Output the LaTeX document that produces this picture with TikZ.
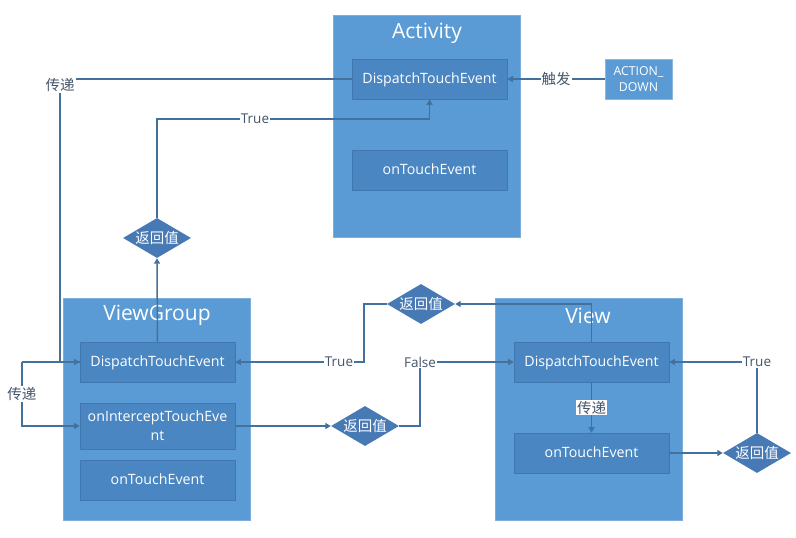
\documentclass[tikz,border=0pt]{standalone}
\usepackage{fontspec}
\setmainfont{Open Sans}
\newfontfamily\cjk{Noto Sans CJK SC}
\usetikzlibrary{shapes.geometric,arrows.meta}
\definecolor{outerblue}{HTML}{5B9BD5}
\definecolor{innerblue}{HTML}{4A86C1}
\definecolor{innerborder}{HTML}{3F77AE}
\definecolor{diamblue}{HTML}{4779B5}
\definecolor{lineblue}{HTML}{41719C}
\definecolor{lbltext}{HTML}{44546A}
\tikzset{
  outerbox/.style={fill=outerblue, draw=outerblue!80!white, line width=0.6pt, minimum width=187pt, minimum height=222pt, inner sep=0pt},
  titletext/.style={text=white, font=\fontsize{21}{24}\selectfont},
  innerbox/.style={fill=innerblue, draw=innerborder, line width=0.6pt, minimum width=155pt, minimum height=40pt, inner sep=1pt, text=white, font=\fontsize{14.2}{19}\selectfont, align=center},
  onebox/.style={innerbox, text height=1.9ex, text depth=0.4ex},
  actbox/.style={fill=outerblue, draw=outerblue!70!white, line width=0.6pt, minimum width=67pt, minimum height=40pt, inner sep=1pt, text=white, font=\fontsize{12.3}{16}\selectfont, align=center},
  decision/.style={diamond, fill=diamblue, minimum width=68pt, minimum height=40pt, inner sep=0pt, aspect=1.7, text=white, font=\cjk\fontsize{14.5}{16}\selectfont},
  conn/.style={draw=lineblue, line width=1.5pt, -{Triangle[length=5.5pt,width=6pt]}},
  plain/.style={draw=lineblue, line width=1.5pt},
  lbl/.style={fill=white, inner sep=1pt, text=lbltext, font=\fontsize{13.5}{15}\selectfont},
  cjklbl/.style={fill=white, inner sep=1pt, text=lbltext, font=\cjk\fontsize{14.5}{16}\selectfont}
}
\begin{document}
\begin{tikzpicture}[x=1pt,y=-1pt]
\useasboundingbox (0,0) rectangle (796,538);
% outer containers
\node[outerbox] (act) at (426.5,126) {};
\node[outerbox] (vg) at (156.5,409) {};
\node[outerbox] (vw) at (588.5,409) {};
\node[titletext] (actT) at (427,33) {Activity};
\node[titletext] (vgT) at (157,315.5) {ViewGroup};
\node[titletext] (vwT) at (588,315.5) {View};
% inner boxes
\node[onebox] (ad) at (429.5,79) {DispatchTouchEvent};
\node[onebox] (at) at (429.5,170) {onTouchEvent};
\node[onebox] (vgd) at (157.5,362) {DispatchTouchEvent};
\node[innerbox, minimum height=46pt] (vgi) at (157.5,426) {onInterceptTouchEve\\nt};
\node[onebox] (vgt) at (157.5,480) {onTouchEvent};
\node[onebox] (vd) at (591.5,362) {DispatchTouchEvent};
\node[onebox] (vt) at (591.5,453) {onTouchEvent};
\node[actbox] (adn) at (638.5,79) {ACTION\_\\DOWN};
% decisions
\node[decision] (d0) at (157,238) {返回值};
\node[decision] (d1) at (421,304) {返回值};
\node[decision] (d2) at (365,426) {返回值};
\node[decision] (d3) at (757,453) {返回值};
% label positions
\coordinate (ty) at (0,119);
\coordinate (bl) at (22,362);
\coordinate (fc) at (420,362);
\coordinate (tc) at (757,362);
\coordinate (tc2) at (364,362);
\node[cjklbl] (p1) at (60,85) {传递};
% connectors
\draw[conn] (adn.west) -- (ad.east) node[cjklbl, pos=0.5] (trig) {触发};
\draw[plain] (ad.west) -- (ad.west -| p1.east);
\draw[conn] (p1.south) |- (vgd.west);
\draw[plain] (bl) -- (vgd.west);
\draw[conn] (bl) |- (vgi.west);
\node[cjklbl] (p2) at (22,394) {传递};
\draw[conn] (vgd.north) -- (d0.south);
\draw[conn] (d0.north) |- (ad.south |- ty) -- (ad.south);
\node[lbl] (t0) at (255,119) {True};
\draw[conn] (vgi.east) -- (d2.west);
\draw[conn] (d2.east) -| (fc) -- (vd.west);
\node[lbl] (fl) at (fc) {False};
\draw[conn] (vd.south) -- (vt.north) node[cjklbl, midway] (p3) {传递};
\draw[conn] (vt.east) -- (d3.west);
\draw[conn] (d3.north) -- (tc) -- (vd.east);
\node[lbl] (t3) at (tc) {True};
\draw[conn] (vd.north) |- (d1.east);
\draw[conn] (d1.west) -| (tc2) -- (vgd.east);
\node[lbl] (t1) at (339,362) {True};
\end{tikzpicture}
\end{document}
